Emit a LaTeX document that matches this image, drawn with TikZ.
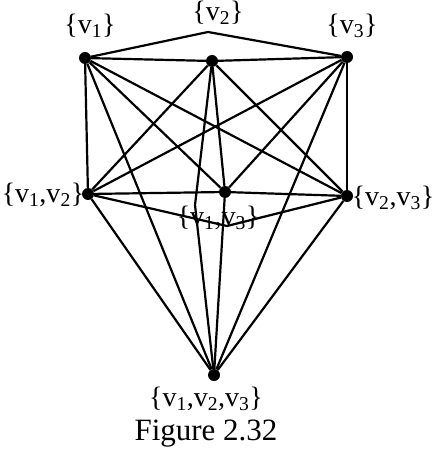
\documentclass[tikz,border=0pt]{standalone}
\usepackage{fontspec}
\setmainfont{Liberation Serif}
\newcommand{\vs}[1]{v\textsubscript{#1}}

\begin{document}
\begin{tikzpicture}[x=1pt,y=-1pt,font=\fontsize{28}{30}\selectfont,
  vtx/.style={circle,fill,inner sep=0pt,minimum size=12pt},
  edge/.style={line width=2.2pt}]
  \useasboundingbox (0,0) rectangle (436,454);
  % vertices of the subset graph
  \foreach \n/\x/\y in {a/85/58,b/212/61,c/347/57,ab/88/194,ac/225/192,bc/347/196,abc/214/375}{
    \node[vtx] (\n) at (\x,\y) {};
  }
  \coordinate (topbend) at (208,32);
  \coordinate (midbend) at (195,205);
  \coordinate (lowbend) at (227,226);
  % labels
  \node (la) at (90,26) {\{\vs1\}};
  \node (lb) at (218,13) {\{\vs2\}};
  \node (lc) at (352,26) {\{\vs3\}};
  \node (lab) at (43,195) {\{\vs1,\vs2\}};
  \node (lbc) at (393,198) {\{\vs2,\vs3\}};
  \node (lac) at (218,218) {\{\vs1,\vs3\}};
  \node (labc) at (206,399) {\{\vs1,\vs2,\vs3\}};
  \node[font=\fontsize{31}{34}\selectfont] (cap) at (206,434) {Figure 2.32};
  % straight edges
  \foreach \s/\t in {a/b,a/ab,a/ac,a/bc,a/abc,b/c,b/ab,b/ac,b/bc,c/ab,c/ac,c/bc,c/abc,
                     ab/ac,ab/abc,ac/bc,ac/abc,bc/abc}
    \draw[edge] (\s) -- (\t);
  % bent edges
  \draw[edge] (a) -- (topbend) -- (c);
  \draw[edge] (b) -- (midbend) -- (abc);
  \draw[edge] (ab) -- (lowbend) -- (bc);
\end{tikzpicture}
\end{document}
